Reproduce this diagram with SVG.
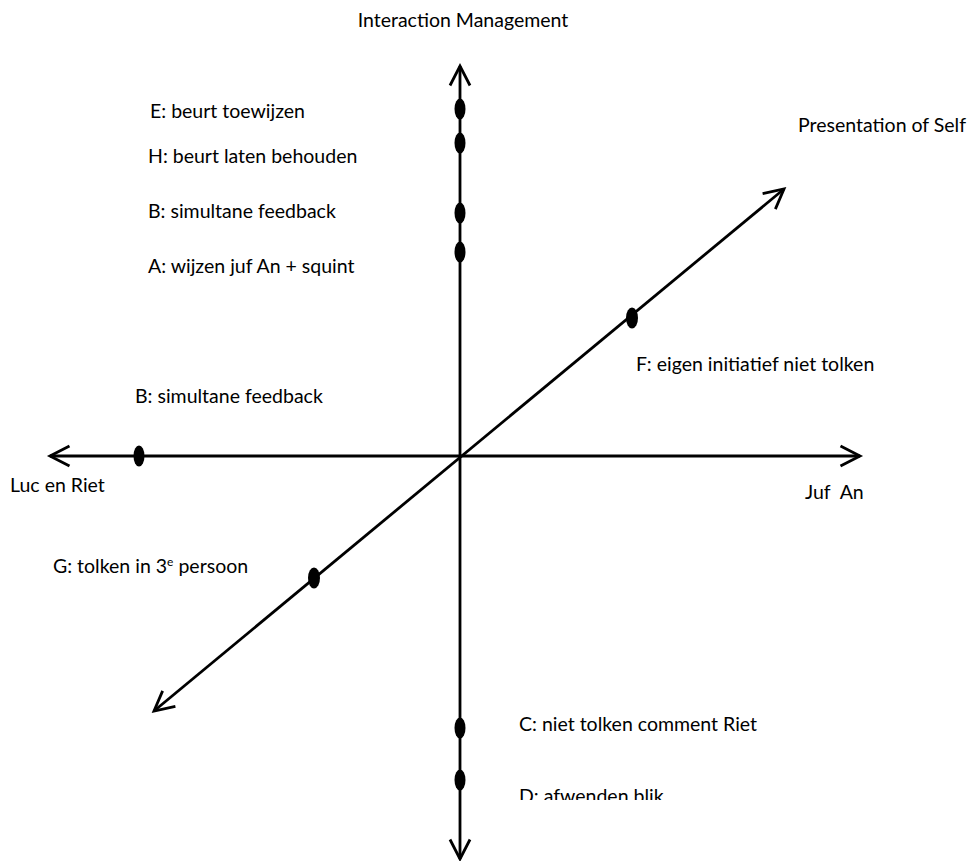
<svg xmlns="http://www.w3.org/2000/svg" width="972" height="861" viewBox="0 0 972 861">
<style>
text{font-family:Lato,"Liberation Sans",sans-serif;font-size:19.5px;fill:#000}
.ax{stroke:#000;stroke-width:2.8;fill:none;marker-start:url(#ah);marker-end:url(#ah)}
.dot{fill:#000}
</style>
<defs>
<marker id="ah" markerUnits="userSpaceOnUse" viewBox="-26 -14 30 28" refX="0" refY="0" markerWidth="30" markerHeight="28" orient="auto-start-reverse" overflow="visible">
<path d="M-19.5,-10 L0,0 L-19.5,10" fill="none" stroke="#000" stroke-width="2.8"/>
</marker>
<clipPath id="clipD"><rect x="500" y="770" width="300" height="30"/></clipPath>
</defs>
<rect width="972" height="861" fill="#fff"/>
<g id="connectors">
<line class="ax" x1="460" y1="859" x2="460" y2="66"/>
<line class="ax" x1="860" y1="456" x2="50" y2="456"/>
<line class="ax" x1="154" y1="711" x2="784" y2="189"/>
</g>
<g id="axis-labels">
<text id="lbl-im" x="463" y="27" text-anchor="middle">Interaction Management</text>
<text id="lbl-pos" x="798" y="132">Presentation of Self</text>
<text id="lbl-luc" x="10" y="492">Luc en Riet</text>
<text id="lbl-juf" x="805" y="499" xml:space="preserve">Juf  An</text>
</g>
<g id="node-E"><ellipse class="dot" cx="460" cy="109" rx="5.5" ry="10.5"/><text x="150" y="118">E: beurt toewijzen</text></g>
<g id="node-H"><ellipse class="dot" cx="460" cy="143" rx="5.5" ry="10.5"/><text x="148" y="163">H: beurt laten behouden</text></g>
<g id="node-B1"><ellipse class="dot" cx="460" cy="213" rx="5.5" ry="10.5"/><text x="148" y="218">B: simultane feedback</text></g>
<g id="node-A"><ellipse class="dot" cx="460" cy="252" rx="5.5" ry="10.5"/><text x="148" y="273">A: wijzen juf An + squint</text></g>
<g id="node-F"><ellipse class="dot" cx="632" cy="318" rx="6" ry="10.5"/><text x="636" y="371">F: eigen initiatief niet tolken</text></g>
<g id="node-B2"><ellipse class="dot" cx="139" cy="456" rx="5.5" ry="10.5"/><text x="135" y="403">B: simultane feedback</text></g>
<g id="node-G"><ellipse class="dot" cx="314" cy="578" rx="6" ry="10.5"/><text x="53" y="573">G: tolken in 3<tspan font-size="12" dy="-7">e</tspan><tspan dy="7"> persoon</tspan></text></g>
<g id="node-C"><ellipse class="dot" cx="460" cy="728" rx="5.5" ry="10.5"/><text x="519" y="731">C: niet tolken comment Riet</text></g>
<g id="node-D"><ellipse class="dot" cx="460" cy="780" rx="5.5" ry="10.5"/><text x="519" y="803" clip-path="url(#clipD)">D: afwenden blik</text></g>
</svg>
